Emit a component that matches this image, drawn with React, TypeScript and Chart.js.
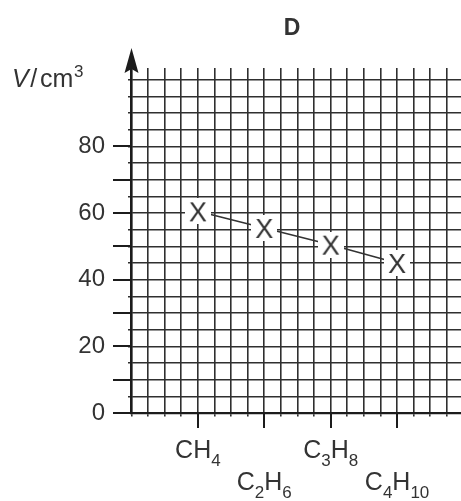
import React, { useEffect, useRef } from "react";
import { Chart, registerables } from "chart.js";

Chart.register(...registerables);

// ---- data ----
const titleText = "D";
const categories = ["CH4", "C2H6", "C3H8", "C4H10"];
const categoryPositions = [4, 8, 12, 16];
const volumes = [60.5, 55.5, 50.5, 45];
const yTickLabels = [0, 20, 40, 60, 80];
const yMajorTicks = [0, 10, 20, 30, 40, 50, 60, 70, 80];

const FONT = "'Liberation Sans', Arial, Helvetica, sans-serif";
const INK = "#333333";
const GRID = "#2f2f2f";
const AXIS = "#1c1c1c";

function makeMarker(): HTMLCanvasElement {
  const s = 26;
  const c = document.createElement("canvas");
  c.width = s;
  c.height = s;
  const ctx = c.getContext("2d")!;
  ctx.fillStyle = "#ffffff";
  ctx.fillRect(0, 0, s, s);
  ctx.fillStyle = INK;
  ctx.font = `27px ${FONT}`;
  ctx.textAlign = "center";
  ctx.textBaseline = "alphabetic";
  ctx.fillText("X", s / 2, s / 2 + (0.716 * 27) / 2);
  return c;
}

function drawFormula(
  ctx: CanvasRenderingContext2D,
  text: string,
  cx: number,
  baseline: number,
  size: number,
  subSize: number,
  subDrop: number
) {
  const parts = text.match(/[A-Za-z]+|\d+/g) || [];
  let total = 0;
  const segs = parts.map((p) => {
    const sub = /\d/.test(p);
    ctx.font = `${sub ? subSize : size}px ${FONT}`;
    const w = ctx.measureText(p).width;
    total += w;
    return { p, sub, w };
  });
  let x = cx - total / 2;
  ctx.textAlign = "left";
  ctx.textBaseline = "alphabetic";
  for (const s of segs) {
    ctx.font = `${s.sub ? subSize : size}px ${FONT}`;
    ctx.fillText(s.p, x, baseline + (s.sub ? subDrop : 0));
    x += s.w;
  }
}

const decorPlugin = {
  id: "decor",
  afterDraw(chart: any) {
    const ctx: CanvasRenderingContext2D = chart.ctx;
    const xs = chart.scales.x;
    const ys = chart.scales.y;
    const area = chart.chartArea;
    const ax = xs.getPixelForValue(0);
    const ay = ys.getPixelForValue(0);
    ctx.save();

    // major y ticks
    ctx.strokeStyle = AXIS;
    ctx.lineWidth = 2;
    for (const v of yMajorTicks) {
      const y = Math.round(ys.getPixelForValue(v));
      ctx.beginPath();
      ctx.moveTo(ax - 18.5, y);
      ctx.lineTo(ax, y);
      ctx.stroke();
    }
    // category ticks on x axis
    for (const p of categoryPositions) {
      const x = Math.round(xs.getPixelForValue(p));
      ctx.beginPath();
      ctx.moveTo(x, ay);
      ctx.lineTo(x, ay + 15);
      ctx.stroke();
    }

    // y axis arrow
    ctx.lineWidth = 2.2;
    ctx.beginPath();
    ctx.moveTo(ax, area.top);
    ctx.lineTo(ax, 62);
    ctx.stroke();
    ctx.fillStyle = AXIS;
    ctx.beginPath();
    ctx.moveTo(ax, 48);
    ctx.lineTo(ax + 7, 73);
    ctx.lineTo(ax, 69);
    ctx.lineTo(ax - 7, 73);
    ctx.closePath();
    ctx.fill();

    // category labels
    ctx.fillStyle = INK;
    categories.forEach((c, i) => {
      const x = xs.getPixelForValue(categoryPositions[i]);
      const base = i % 2 === 0 ? 458 : 490;
      drawFormula(ctx, c, x, base, 25, 17, 8);
    });

    // title
    ctx.font = `bold 23px ${FONT}`;
    ctx.textAlign = "center";
    ctx.textBaseline = "alphabetic";
    ctx.fillText(titleText, 292, 35);

    // y axis title V/cm3
    let tx = 12;
    const tb = 87;
    ctx.textAlign = "left";
    ctx.font = `italic 25px ${FONT}`;
    ctx.fillText("V", tx, tb);
    tx += ctx.measureText("V").width + 1.5;
    ctx.font = `25px ${FONT}`;
    ctx.fillText("/", tx, tb);
    tx += ctx.measureText("/").width + 3;
    ctx.fillText("cm", tx, tb);
    tx += ctx.measureText("cm").width + 0.5;
    ctx.font = `17px ${FONT}`;
    ctx.fillText("3", tx, tb - 10);

    ctx.restore();
  },
};

export default function App() {
  const ref = useRef<HTMLCanvasElement | null>(null);

  useEffect(() => {
    if (!ref.current) return;
    const marker = makeMarker();
    const onGridX = (c: any) =>
      c.tick && Number.isInteger(c.tick.value) ? GRID : "rgba(0,0,0,0)";
    const onGridY = (c: any) =>
      c.tick && c.tick.value % 5 === 0 ? GRID : "rgba(0,0,0,0)";

    const chart = new Chart(ref.current, {
      type: "line",
      data: {
        datasets: [
          {
            data: categoryPositions.map((p, i) => ({ x: p, y: volumes[i] })),
            borderColor: INK,
            borderWidth: 1.6,
            pointStyle: marker as any,
            pointRadius: 12,
            tension: 0,
          },
        ],
      },
      options: {
        animation: false,
        responsive: true,
        maintainAspectRatio: false,
        layout: {
          autoPadding: false,
          padding: { top: 68, left: 0, right: 0, bottom: 0 },
        },
        plugins: {
          legend: { display: false },
          tooltip: { enabled: false },
          title: { display: false },
        },
        events: [],
        scales: {
          x: {
            type: "linear",
            min: 0,
            max: 19.85,
            bounds: "data",
            ticks: {
              stepSize: 1,
              display: false,
              autoSkip: false,
              includeBounds: false,
            },
            grid: {
              color: onGridX,
              lineWidth: 1.6,
              tickLength: 3.5,
              drawTicks: true,
            },
            border: { display: true, color: AXIS, width: 2.2 },
            afterFit: (s: any) => {
              s.height = 88;
            },
          },
          y: {
            type: "linear",
            min: 0,
            max: 103.5,
            bounds: "data",
            ticks: {
              stepSize: 5,
              autoSkip: false,
              includeBounds: false,
              padding: 23,
              color: INK,
              font: { size: 24, family: FONT },
              callback: (v: any) =>
                yTickLabels.includes(Number(v)) ? String(v) : "",
            },
            grid: {
              color: onGridY,
              lineWidth: 1.6,
              tickLength: 3.5,
              drawTicks: true,
            },
            border: { display: true, color: AXIS, width: 2.2 },
            afterFit: (s: any) => {
              s.width = 131.5;
            },
          },
        },
      },
      plugins: [decorPlugin],
    });
    return () => chart.destroy();
  }, []);

  return (
    <div
      style={{
        position: "absolute",
        left: 0,
        top: 0,
        width: 461,
        height: 501,
        background: "#ffffff",
      }}
    >
      <canvas ref={ref} />
    </div>
  );
}
